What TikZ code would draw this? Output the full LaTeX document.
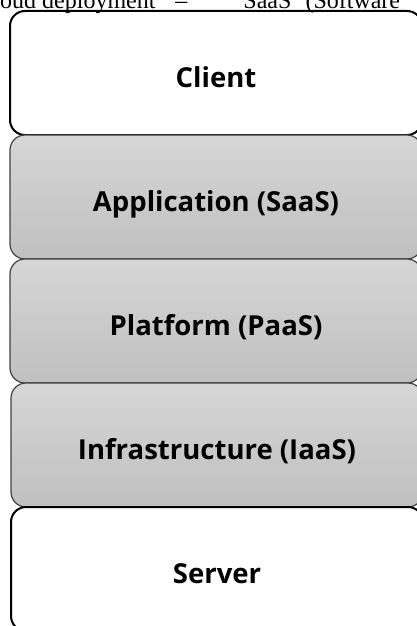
\documentclass[tikz,border=0pt]{standalone}
\usepackage{fontspec}
\setsansfont{Open Sans}
\newfontfamily\bodyserif{Liberation Serif}
\usetikzlibrary{positioning}

\begin{document}
\begin{tikzpicture}[x=1pt,y=1pt,
		layer/.style={draw=black, line width=2pt, rounded corners=15pt, outer sep=0pt,
			inner sep=0pt, minimum width=412pt, minimum height=124pt,
			text height=28pt, text depth=0pt,
			font=\sffamily\bfseries\fontsize{27.5}{30}\selectfont},
		service/.style={layer, draw=black!75, line width=1.2pt,
			top color=black!16, bottom color=black!25}]
		\useasboundingbox (0,0) rectangle (417,-626);
		% running text of the page, cut by the crop
		\node[anchor=base west, inner sep=0pt, font=\bodyserif\fontsize{24}{28}\selectfont] (pageline) at (-22.7,-8.5)
			{Cloud deployment\hspace{20pt}–\hspace{56pt}SaaS\hspace{14pt}(Software};
		% the stack, from client down to server
		\node[layer] (client) at (216,-73) {Client};
		\node[service, below=0pt of client] (saas) {Application (SaaS)};
		\node[service, below=0pt of saas] (paas) {Platform (PaaS)};
		\node[service, below=0pt of paas, xshift=1pt] (iaas) {Infrastructure (IaaS)};
		\node[layer, below=0pt of iaas] (server) {Server};
	\end{tikzpicture}
\end{document}
